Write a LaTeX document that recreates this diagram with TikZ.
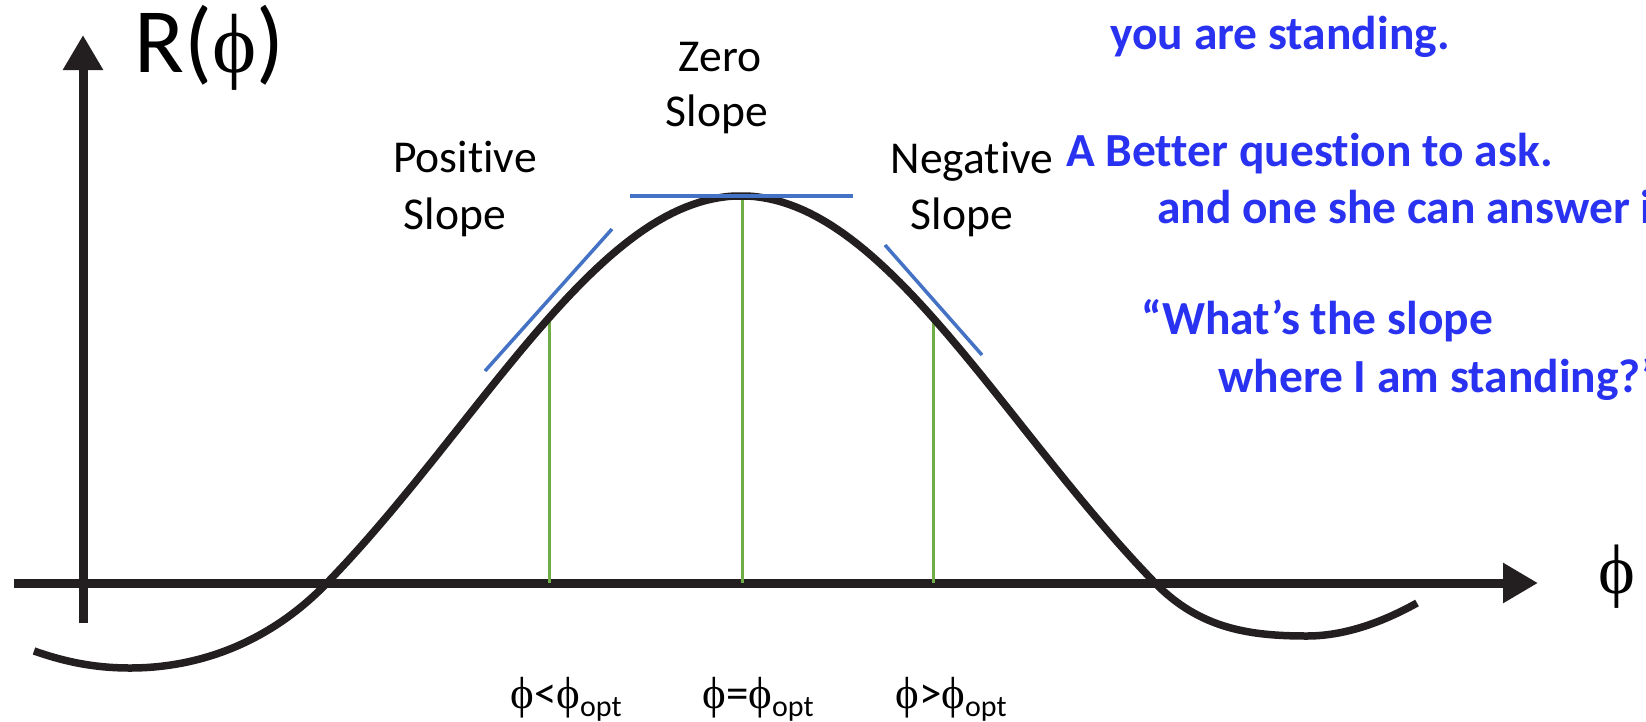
\documentclass[tikz,border=0pt]{standalone}
\usepackage{fontspec}
\setmainfont{Carlito}[Ligatures=NoCommon]
\newfontfamily\phifont{Liberation Serif}
\usetikzlibrary{arrows.meta}
\definecolor{curveblack}{RGB}{35,31,32}
\definecolor{tanblue}{RGB}{68,114,196}
\definecolor{vgreen}{RGB}{112,173,71}
\definecolor{textblue}{RGB}{40,50,240}
\newcommand{\ph}{{\phifont ϕ}}
\newcommand{\opt}{\raisebox{-8pt}{\fontsize{30}{30}\selectfont opt}}
\begin{document}
\begin{tikzpicture}[x=1pt,y=-1pt,
  axisline/.style={line width=9pt, draw=curveblack, -{Triangle[length=35pt,width=38pt]}},
  curveline/.style={line width=7.5pt, draw=curveblack, line cap=butt, line join=round},
  tangent/.style={line width=3.5pt, draw=tanblue},
  marker/.style={line width=3pt, draw=vgreen},
  lbl/.style={font=\fontsize{45.6}{55}\selectfont, text=black, inner sep=0pt, anchor=base},
  bluetxt/.style={font=\fontsize{47.5}{57}\selectfont\bfseries, text=textblue, inner sep=0pt, anchor=base west},
  phil/.style={font=\fontsize{45}{50}\selectfont, text=black, inner sep=0pt, anchor=base}
]
\useasboundingbox (0,0) rectangle (1646,721);
\clip (0,0) rectangle (1646,721);

% axes
\draw[axisline] (83,623) -- (83,35);
\draw[axisline] (14,583) -- (1538,583);

% green markers
\draw[marker] (549,583) -- (549,314);
\draw[marker] (742,583) -- (742,199);
\draw[marker] (933,583) -- (933,314);

% curve
\draw[curveline] (34,651) .. controls (60,660) and (90,668) .. (130,668)
  .. controls (200,668) and (270,642) .. (327,583)
  -- plot[domain=-414:414, samples=121] ({741+\x},{778-582*exp(-0.5*(\x/280)^2)})
  .. controls (1200,629) and (1250,636) .. (1307,636)
  .. controls (1350,636) and (1390,618) .. (1417,603);

% tangents
\draw[tangent] (485,371) -- (612,229);
\draw[tangent] (630,196) -- (853,196);
\draw[tangent] (885,245) -- (982,355);

% axis labels
\node[anchor=base west, inner sep=0pt] (rphi) at (134,72)
  {\fontsize{92}{92}\selectfont R(\phifont\fontsize{84}{84}\selectfont ϕ\fontspec{Carlito}\fontsize{92}{92}\selectfont)};
\node[inner sep=0pt, font=\phifont\fontsize{70}{70}\selectfont] (phiaxis) at (1617,577) {ϕ};

% slope labels
\node[lbl] (zero1) at (720,71) {Zero};
\node[lbl] (zero2) at (717,126) {Slope};
\node[lbl] (pos1) at (465,172) {Positive};
\node[lbl] (pos2) at (455,229) {Slope};
\node[lbl] (neg1) at (972,173) {Negative};
\node[lbl] (neg2) at (962,229) {Slope};

% bottom labels
\node[phil] (lt) at (566,708) {\ph<\ph\opt};
\node[phil] (eq) at (758,708) {\ph=\ph\opt};
\node[phil] (gt) at (951,708) {\ph>\ph\opt};

% blue text
\node[bluetxt] (b1) at (1110,49) {you are standing.};
\node[bluetxt] (b2) at (1066,166) {A Better question to ask.};
\node[bluetxt] (b3) at (1157,223) {and one she can answer it};
\node[bluetxt] (b4) at (1141,334) {“What’s the slope};
\node[bluetxt] (b5) at (1218,392) {where I am standing?”};
\end{tikzpicture}
\end{document}
